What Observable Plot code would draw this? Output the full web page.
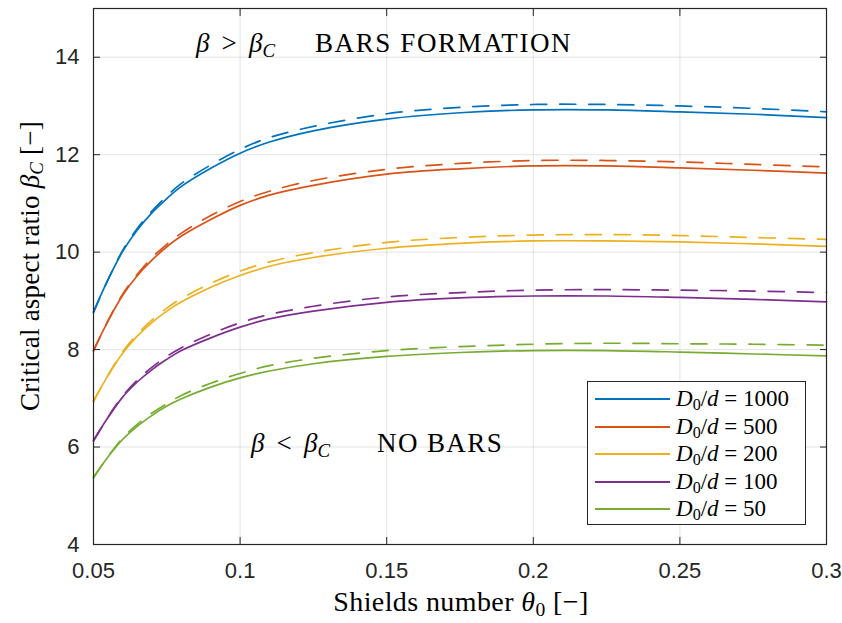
<!DOCTYPE html>
<html>
<head>
<meta charset="utf-8">
<script src="https://cdn.jsdelivr.net/npm/d3@7"></script>
<script src="https://cdn.jsdelivr.net/npm/@observablehq/plot@0.6"></script>
<style>
  body { margin: 0; background: #fff; }
  #wrap { position: relative; width: 842px; height: 623px; }
  .math { position: absolute; font-family: "Liberation Serif", serif; color: #000; white-space: nowrap; line-height: 1; }
  .math sub { font-size: 0.7em; vertical-align: -0.25em; line-height: 0; }
  .op { margin: 0 0.45em; }
  #legend { position: absolute; left: 587px; top: 381px; width: 219px; height: 144px; border: 1px solid #262626; background: #fff; box-sizing: border-box; }
  .lrow { position: absolute; left: 0; height: 24px; width: 100%; }
  .lrow .sw { position: absolute; left: 7px; top: 11px; width: 75px; height: 0; border-top: 2px solid; }
  .lrow .lt { position: absolute; left: 88px; top: 0; font-family: "Liberation Serif", serif; font-size: 23px; line-height: 24px; white-space: nowrap; }
  .lrow .lt sub { font-size: 0.7em; vertical-align: -0.25em; line-height: 0; }
  .lrow .lt .eq { margin: 0 0.25em; }
</style>
</head>
<body>
<div id="wrap"></div>
<script>
// ---- data ----
const thetas = [0.05, 0.055, 0.06, 0.065, 0.07, 0.075, 0.08, 0.09, 0.1, 0.11, 0.125, 0.15, 0.175, 0.2, 0.225, 0.25, 0.275, 0.3];
const seriesNames = ["1000", "500", "200", "100", "50"];
const seriesColors = ["#0072BD", "#D95319", "#EDB120", "#7E2F8E", "#77AC30"];

const solid1000  = [8.78, 9.44, 10.02, 10.46, 10.81, 11.10, 11.35, 11.72, 12.03, 12.26, 12.49, 12.73, 12.86, 12.92, 12.92, 12.88, 12.83, 12.76];
const dashed1000 = [8.76, 9.44, 10.04, 10.49, 10.85, 11.15, 11.41, 11.79, 12.11, 12.35, 12.58, 12.84, 12.97, 13.03, 13.03, 13.00, 12.95, 12.88];
const solid500   = [7.99, 8.59, 9.12, 9.52, 9.84, 10.11, 10.33, 10.67, 10.96, 11.17, 11.37, 11.60, 11.71, 11.77, 11.77, 11.73, 11.68, 11.62];
const dashed500  = [7.97, 8.60, 9.14, 9.55, 9.89, 10.16, 10.39, 10.75, 11.04, 11.25, 11.47, 11.70, 11.82, 11.88, 11.88, 11.85, 11.80, 11.75];
const solid200   = [6.95, 7.47, 7.93, 8.28, 8.56, 8.79, 8.98, 9.28, 9.52, 9.71, 9.89, 10.08, 10.18, 10.23, 10.23, 10.21, 10.17, 10.12];
const dashed200  = [6.93, 7.48, 7.96, 8.32, 8.61, 8.85, 9.05, 9.36, 9.61, 9.80, 9.99, 10.20, 10.30, 10.35, 10.36, 10.34, 10.30, 10.26];
const solid100   = [6.14, 6.61, 7.03, 7.34, 7.59, 7.80, 7.98, 8.24, 8.46, 8.63, 8.79, 8.97, 9.06, 9.10, 9.10, 9.07, 9.03, 8.98];
const dashed100  = [6.12, 6.62, 7.05, 7.38, 7.64, 7.86, 8.04, 8.32, 8.55, 8.72, 8.89, 9.08, 9.17, 9.22, 9.23, 9.22, 9.20, 9.17];
const solid50    = [5.38, 5.80, 6.16, 6.43, 6.65, 6.84, 6.99, 7.23, 7.42, 7.56, 7.71, 7.86, 7.94, 7.98, 7.98, 7.95, 7.91, 7.87];
const dashed50   = [5.37, 5.81, 6.19, 6.47, 6.70, 6.89, 7.06, 7.31, 7.51, 7.67, 7.82, 7.98, 8.06, 8.11, 8.13, 8.12, 8.11, 8.09];

const xTicks = [0.05, 0.1, 0.15, 0.2, 0.25, 0.3];
const xTickLabels = ["0.05", "0.1", "0.15", "0.2", "0.25", "0.3"];
const yTicks = [4, 6, 8, 10, 12, 14];
const xDomain = [0.05, 0.3];
const yDomain = [4, 15];

// ---- build table ----
const solidSets = [solid1000, solid500, solid200, solid100, solid50];
const dashedSets = [dashed1000, dashed500, dashed200, dashed100, dashed50];
const solidRows = [], dashedRows = [];
seriesNames.forEach((s, i) => {
  thetas.forEach((t, j) => {
    solidRows.push({theta: t, beta: solidSets[i][j], series: s});
    dashedRows.push({theta: t, beta: dashedSets[i][j], series: s});
  });
});

const axisColor = "#262626";
const tickFont = {fontSize: 22, fontFamily: "Liberation Sans, Arial, sans-serif", fill: axisColor};

const chart = Plot.plot({
  width: 842,
  height: 623,
  marginLeft: 93,
  marginRight: 16,
  marginTop: 8,
  marginBottom: 79,
  style: {background: "#fff", overflow: "visible"},
  x: {domain: xDomain, label: null},
  y: {domain: yDomain, label: null},
  color: {domain: seriesNames, range: seriesColors},
  marks: [
    Plot.gridX(xTicks, {stroke: axisColor, strokeOpacity: 0.13, strokeWidth: 1}),
    Plot.gridY(yTicks, {stroke: axisColor, strokeOpacity: 0.13, strokeWidth: 1}),
    Plot.line(dashedRows, {x: "theta", y: "beta", z: "series", stroke: "series", strokeWidth: 1.7, strokeDasharray: "16,13", curve: "catmull-rom"}),
    Plot.line(solidRows, {x: "theta", y: "beta", z: "series", stroke: "series", strokeWidth: 1.7, curve: "catmull-rom"}),
    Plot.frame({stroke: axisColor, strokeWidth: 1.2}),
    Plot.axisX(xTicks, {anchor: "bottom", tickSize: -7, tickPadding: 25, tickFormat: (d, i) => xTickLabels[i], label: null, ...tickFont, stroke: axisColor}),
    Plot.axisX(xTicks, {anchor: "top", tickSize: -7, tickFormat: () => "", label: null, stroke: axisColor}),
    Plot.axisY(yTicks, {anchor: "left", tickSize: -7, tickPadding: 21, label: null, ...tickFont, stroke: axisColor}),
    Plot.axisY(yTicks, {anchor: "right", tickSize: -7, tickFormat: () => "", label: null, stroke: axisColor})
  ]
});

const wrap = document.getElementById("wrap");
wrap.appendChild(chart);

function addMath(html, css) {
  const d = document.createElement("div");
  d.className = "math";
  d.innerHTML = html;
  Object.assign(d.style, css);
  wrap.appendChild(d);
  return d;
}

// axis labels
addMath('Shields number <i>θ</i><sub>0</sub> [−]', {left: "461px", top: "588px", fontSize: "28px", letterSpacing: "0.4px", transform: "translateX(-50%)"});
addMath('Critical aspect ratio <i>β</i><sub><i>C</i></sub> [−]', {left: "30px", top: "266px", fontSize: "27px", letterSpacing: "0.2px", transform: "translate(-50%,-50%) rotate(-90deg)"});

// annotations
addMath('<i>β</i><span class="op">&gt;</span><i>β</i><sub><i>C</i></sub>', {left: "196px", top: "30px", fontSize: "27px"});
addMath('BARS FORMATION', {left: "315px", top: "30px", fontSize: "27px", letterSpacing: "1.6px"});
addMath('<i>β</i><span class="op">&lt;</span><i>β</i><sub><i>C</i></sub>', {left: "251px", top: "430px", fontSize: "27px"});
addMath('NO BARS', {left: "377px", top: "430px", fontSize: "27px", letterSpacing: "1.4px"});

// legend
const legend = document.createElement("div");
legend.id = "legend";
seriesNames.forEach((s, i) => {
  const r = document.createElement("div");
  r.className = "lrow";
  r.style.top = (5 + i * 27.6) + "px";
  r.innerHTML = `<div class="sw" style="border-color:${seriesColors[i]}"></div><div class="lt"><i>D</i><sub>0</sub>/<i>d</i><span class="eq">=</span>${s}</div>`;
  legend.appendChild(r);
});
wrap.appendChild(legend);
</script>
</body>
</html>
